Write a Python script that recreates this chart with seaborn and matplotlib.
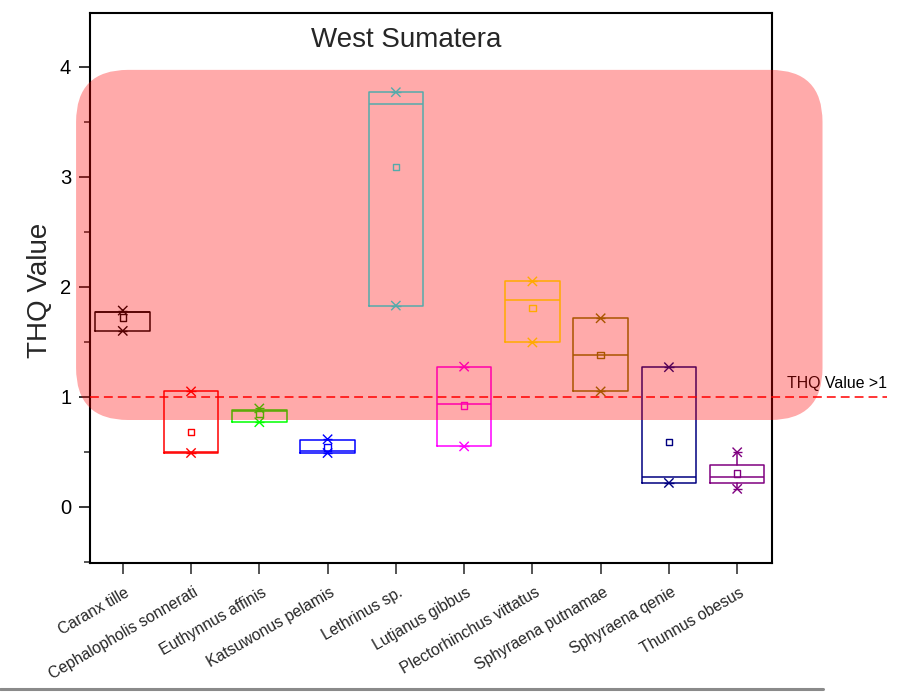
import numpy as np
import pandas as pd
import matplotlib
matplotlib.use("Agg")
import matplotlib.pyplot as plt
import matplotlib.transforms as mtransforms
from matplotlib.patches import FancyBboxPatch
from matplotlib.lines import Line2D
import seaborn as sns

# THQ summary per species (West Sumatera)
species = ["Caranx tille", "Cephalopholis sonnerati", "Euthynnus affinis",
           "Katsuwonus pelamis", "Lethrinus sp.", "Lutjanus gibbus",
           "Plectorhinchus vittatus", "Sphyraena putnamae", "Sphyraena qenie",
           "Thunnus obesus"]
q1 = [1.600, 0.490, 0.775, 0.494, 1.830, 0.550, 1.495, 1.050, 0.218, 0.215]
median = [1.770, 0.500, 0.875, 0.505, 3.660, 0.940, 1.885, 1.380, 0.273, 0.273]
q3 = [1.775, 1.050, 0.885, 0.607, 3.770, 1.270, 2.050, 1.715, 1.270, 0.385]
mean = [1.720, 0.680, 0.845, 0.540, 3.090, 0.922, 1.810, 1.380, 0.588, 0.303]
low = [1.600, 0.490, 0.770, 0.490, 1.830, 0.550, 1.495, 1.050, 0.218, 0.164]
high = [1.785, 1.050, 0.895, 0.615, 3.770, 1.275, 2.050, 1.715, 1.270, 0.497]
colors = ["#000000", "#ff0000", "#00ff00", "#0000ff", "#00ffff",
          "#ff00ff", "#ffff00", "#808000", "#000080", "#800080"]

threshold = 1.0
threshold_label = "THQ Value >1"
title = "West Sumatera"
ylabel = "THQ Value"
# highlighted region (data units)
band_x = (-0.684, 10.25)
band_y = (0.79, 3.973)

sns.set_theme(style="ticks")
plt.rcParams["font.family"] = ["Liberation Sans", "DejaVu Sans"]

W, H = 911, 692
fig = plt.figure(figsize=(W / 100, H / 100), dpi=100)
ax = fig.add_axes([90 / W, 1 - 563 / H, 682 / W, 550 / H])

pos = np.arange(len(species))
palette = dict(zip(species, colors))

# boxes: whiskers only where the range extends past the box
for i, sp in enumerate(species):
    c = colors[i]
    st = dict(med=median[i], q1=q1[i], q3=q3[i], whislo=low[i], whishi=high[i],
              fliers=[], label=sp)
    lp = dict(color=c, linewidth=1.1)
    ax.bxp([st], positions=[i], widths=0.8, showfliers=False, showcaps=False,
           boxprops=lp, medianprops=lp, whiskerprops=lp, manage_ticks=False)

df = pd.DataFrame({"pos": pos, "species": species, "mean": mean,
                   "low": low, "high": high})

# mean as open square
sns.scatterplot(data=df, x="pos", y="mean", hue="species", palette=palette,
                marker="s", s=22, linewidth=1.0, legend=False, ax=ax, zorder=4)
coll = ax.collections[-1]
coll.set_edgecolors(coll.get_facecolors())
coll.set_facecolors("none")

# extremes as crosses and dashes
for col in ["low", "high"]:
    sns.scatterplot(data=df, x="pos", y=col, hue="species", palette=palette,
                    marker="x", s=45, linewidth=1.0, legend=False, ax=ax, zorder=4)
    sns.scatterplot(data=df, x="pos", y=col, hue="species", palette=palette,
                    marker="_", s=45, linewidth=1.0, legend=False, ax=ax, zorder=4)

ax.set_xlim(-0.48, 9.51)
ax.set_ylim(-0.51, 4.49)

# threshold line reaching past the right spine
x_end = 11.2
ax.plot([-0.48, x_end], [threshold, threshold], color="#ff0000", lw=1.1,
        dashes=(5.8, 3.3), clip_on=False, zorder=3)
ax.text(x_end - 0.01, threshold + 0.08, threshold_label, ha="right",
        va="baseline", fontsize=11.4, color="black", clip_on=False)

# axes styling
for s in ax.spines.values():
    s.set_linewidth(1.5)
    s.set_color("black")
ax.set_yticks([0, 1, 2, 3, 4])
ax.set_yticks([-0.5, 0.5, 1.5, 2.5, 3.5], minor=True)
ax.tick_params(axis="y", which="major", direction="out", length=8, width=1.1,
               labelsize=14.5, pad=5.5, colors="black")
ax.tick_params(axis="y", which="minor", direction="out", length=4.3, width=1.1,
               left=True)
ax.tick_params(axis="x", which="major", direction="out", length=7.7, width=1.1,
               pad=8)
ax.set_xticks(pos)
ax.set_xticklabels(species, rotation=30, ha="right", va="top",
                   rotation_mode="anchor", fontsize=11.3)
shift = mtransforms.ScaledTranslation(2 / 100, 0, fig.dpi_scale_trans)
for lab in ax.get_xticklabels():
    lab.set_transform(lab.get_transform() + shift)
ax.set_xlabel("")

ax.set_ylabel(ylabel, fontsize=20)
ax.yaxis.set_label_coords(-0.054, 0.496)

ax.text(0.464, 0.951, title, transform=ax.transAxes, ha="center",
        va="center", fontsize=20)

# translucent rounded highlight drawn over the plot
inv = fig.transFigure.inverted()
(x0, y0) = inv.transform(ax.transData.transform((band_x[0], band_y[0])))
(x1, y1) = inv.transform(ax.transData.transform((band_x[1], band_y[1])))
r = 52 / W
band = FancyBboxPatch((x0, y0), x1 - x0, y1 - y0,
                      boxstyle=f"round,pad=0,rounding_size={r}",
                      mutation_aspect=W / H, transform=fig.transFigure,
                      facecolor="#ff0000", alpha=1 / 3, edgecolor="none",
                      zorder=10)
fig.patches.append(band)

# grey rule along the bottom edge
fig.lines.append(Line2D([0, 823 / W], [1 - 689 / H, 1 - 689 / H],
                        transform=fig.transFigure, color="#8a8a8a", lw=2.2))

fig.savefig("out.png", dpi=100)
